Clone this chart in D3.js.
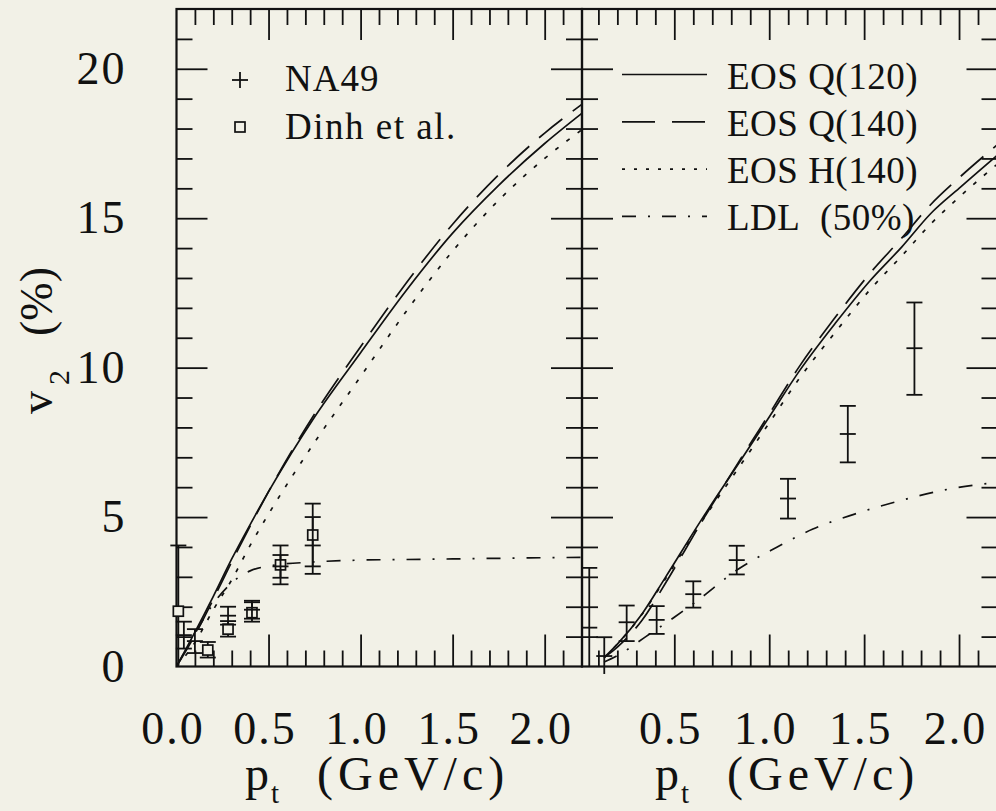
<!DOCTYPE html>
<html>
<head>
<meta charset="utf-8">
<script src="https://cdn.jsdelivr.net/npm/d3@7"></script>
<style>
  body { margin: 0; background: #f2f1e7; }
  svg { display: block; }
</style>
</head>
<body>
<div id="chart"></div>
<script>
// ---- left panel: pions ----
var ptPion = [0, 0.1, 0.2, 0.3, 0.4, 0.5, 0.75, 1.0, 1.25, 1.5, 1.75, 2.0, 2.2];
var eosq120Pion = [0, 1.15, 2.35, 3.6, 4.75, 5.85, 8.35, 10.5, 12.6, 14.5, 16.1, 17.5, 18.5];
var eosq140Pion = [0, 1.05, 2.25, 3.5, 4.7, 5.85, 8.45, 10.7, 12.85, 14.8, 16.45, 17.85, 18.8];
var eosh140Pion = [0, 0.8, 1.9, 2.9, 4.05, 5.1, 7.5, 9.7, 11.9, 13.9, 15.6, 17.0, 17.95];
var ldlPion = [0, 1.1, 2.1, 2.8, 3.2, 3.36, 3.5, 3.56, 3.58, 3.6, 3.62, 3.64, 3.65];

// NA49 pions (+)
var na49PionPt = [0.04, 0.1, 0.28, 0.41, 0.565, 0.74];
var na49PionV2 = [1.05, 0.85, 1.7, 1.9, 3.35, 4.05];
var na49PionLo = [0.6, 0.45, 1.4, 1.6, 2.97, 3.1];
var na49PionHi = [1.5, 1.25, 2.0, 2.2, 3.73, 5.0];

// Dinh et al. (squares)
var dinhPt = [0.01, 0.17, 0.28, 0.41, 0.565, 0.74];
var dinhV2 = [1.85, 0.55, 1.25, 1.8, 3.4, 4.4];
var dinhLo = [0, 0.3, 1.0, 1.5, 2.75, 3.35];
var dinhHi = [4.05, 0.82, 1.52, 2.15, 4.05, 5.45];

// ---- right panel: protons ----
var ptProton = [0.13, 0.2, 0.33, 0.45, 0.64, 0.85, 1.0, 1.16, 1.35, 1.53, 1.7, 1.85, 2.0, 2.2];
var eosq120Proton = [0.3, 0.75, 1.76, 2.95, 4.88, 6.9, 8.35, 9.9, 11.5, 12.9, 14.05, 15.15, 16.0, 17.1];
var eosq140Proton = [0.3, 0.65, 1.55, 2.75, 4.8, 6.95, 8.45, 10.05, 11.7, 13.15, 14.35, 15.45, 16.35, 17.45];
var eosh140Proton = [0.3, 0.75, 1.75, 2.9, 4.8, 6.75, 8.15, 9.65, 11.2, 12.6, 13.75, 14.8, 15.7, 16.8];
var ptLdlProton = [0.13, 0.21, 0.35, 0.5, 0.61, 0.84, 1.04, 1.23, 1.45, 1.69, 1.95, 2.2];
var ldlProton = [0.15, 0.4, 1.0, 1.65, 2.15, 3.27, 3.99, 4.6, 5.1, 5.55, 5.94, 6.16];

// NA49 protons (+)
var na49ProtonPt = [0.052, 0.131, 0.249, 0.407, 0.6, 0.829, 1.099, 1.414, 1.765];
var na49ProtonV2 = [1.3, 0.35, 1.48, 1.56, 2.42, 3.56, 5.62, 7.78, 10.65];
var na49ProtonLo = [0, -0.25, 0.85, 1.09, 1.97, 3.08, 4.95, 6.83, 9.09];
var na49ProtonHi = [3.3, 0.98, 2.04, 2.02, 2.85, 4.04, 6.28, 8.72, 12.18];

// ticks and legend
var xMajor = [0.5, 1.0, 1.5, 2.0];
var xMinor = [0.1, 0.2, 0.3, 0.4, 0.6, 0.7, 0.8, 0.9, 1.1, 1.2, 1.3, 1.4, 1.6, 1.7, 1.8, 1.9, 2.1];
var yMajor = [5, 10, 15, 20];
var yMinor = [1, 2, 3, 4, 6, 7, 8, 9, 11, 12, 13, 14, 16, 17, 18, 19, 21];
var yLabels = [0, 5, 10, 15, 20];
var xLabelsLeft = [0, 0.5, 1.0, 1.5, 2.0];
var xLabelsRight = [0.5, 1.0, 1.5, 2.0];
var legendCurves = ["EOS Q(120)", "EOS Q(140)", "EOS H(140)", "LDL\u00a0 (50%)"];
var legendData = ["NA49", "Dinh et al."];

var W = 996, H = 811;
var bg = "#f2f1e7";
var ink = "#111";
var font = "'Liberation Serif', 'Times New Roman', serif";

// line styles
var dashes = ["none", "30,13", "4,10", "14,12,2,12"];

var svg = d3.select("#chart").append("svg")
    .attr("width", W)
    .attr("height", H);

svg.append("rect").attr("width", W).attr("height", H).attr("fill", bg);

var y = d3.scaleLinear().domain([0, 22]).range([666.5, 9]);

var panels = [
    {
        id: "left",
        x: d3.scaleLinear().domain([0, 2.2]).range([176.5, 581.5]),
        left: 176.5, right: 582,
        curves: [
            { pt: ptPion, v2: eosq120Pion },
            { pt: ptPion, v2: eosq140Pion },
            { pt: ptPion, v2: eosh140Pion },
            { pt: ptPion, v2: ldlPion }
        ],
        labels: xLabelsLeft
    },
    {
        id: "right",
        x: d3.scaleLinear().domain([0, 2.2]).range([579.4, 997]),
        left: 582, right: 997.5,
        curves: [
            { pt: ptProton, v2: eosq120Proton },
            { pt: ptProton, v2: eosq140Proton },
            { pt: ptProton, v2: eosh140Proton },
            { pt: ptLdlProton, v2: ldlProton }
        ],
        labels: xLabelsRight
    }
];

function tickAxis(g, gen, values, size) {
    g.call(gen.tickValues(values).tickSize(size).tickFormat(""));
    g.select(".domain").remove();
    g.selectAll(".tick line").attr("stroke", ink).attr("stroke-width", 1.8);
}

// error bars with centre mark "+"
function drawBars(g, x, pts, vals, lo, hi, half) {
    var idx = d3.range(pts.length);
    var bars = g.append("g").attr("stroke", ink).attr("stroke-width", 1.8).attr("fill", "none");
    bars.selectAll(".v").data(idx).join("line")
        .attr("x1", i => x(pts[i])).attr("x2", i => x(pts[i]))
        .attr("y1", i => y(lo[i])).attr("y2", i => y(hi[i]));
    bars.selectAll(".hi").data(idx).join("line")
        .attr("x1", i => x(pts[i]) - half).attr("x2", i => x(pts[i]) + half)
        .attr("y1", i => y(hi[i])).attr("y2", i => y(hi[i]));
    bars.selectAll(".lo").data(idx.filter(i => lo[i] > 0)).join("line")
        .attr("x1", i => x(pts[i]) - half).attr("x2", i => x(pts[i]) + half)
        .attr("y1", i => y(lo[i])).attr("y2", i => y(lo[i]));
    return bars;
}

panels.forEach(function (p) {
    var x = p.x;
    var g = svg.append("g");

    svg.append("clipPath").attr("id", "clip-" + p.id)
        .append("rect")
        .attr("x", p.left).attr("y", y(22))
        .attr("width", p.right - p.left).attr("height", y(0) - y(22));

    // curves
    var line = d3.line()
        .x(d => x(d[0]))
        .y(d => y(d[1]))
        .curve(d3.curveMonotoneX);

    g.append("g").attr("clip-path", "url(#clip-" + p.id + ")")
        .selectAll("path")
        .data(p.curves)
        .join("path")
        .attr("d", c => line(c.pt.map((v, i) => [v, c.v2[i]])))
        .attr("fill", "none")
        .attr("stroke", ink)
        .attr("stroke-width", 1.7)
        .attr("stroke-dasharray", (c, i) => dashes[i]);

    // ticks (inward on all four sides)
    var inside = v => x(v) > p.left + 2 && x(v) < p.right - 2;
    var minX = xMinor.filter(inside), majX = xMajor.filter(inside);
    tickAxis(g.append("g").attr("transform", `translate(0,${y(22)})`), d3.axisBottom(x), minX, 16);
    tickAxis(g.append("g").attr("transform", `translate(0,${y(22)})`), d3.axisBottom(x), majX, 31);
    tickAxis(g.append("g").attr("transform", `translate(0,${y(0)})`), d3.axisTop(x), minX, 16);
    tickAxis(g.append("g").attr("transform", `translate(0,${y(0)})`), d3.axisTop(x), majX, 32);
    tickAxis(g.append("g").attr("transform", `translate(${p.left},0)`), d3.axisRight(y), yMinor, 16);
    tickAxis(g.append("g").attr("transform", `translate(${p.left},0)`), d3.axisRight(y), yMajor, 31);
    tickAxis(g.append("g").attr("transform", `translate(${p.right},0)`), d3.axisLeft(y), yMinor, 16);
    tickAxis(g.append("g").attr("transform", `translate(${p.right},0)`), d3.axisLeft(y), yMajor, 31);

    // frame
    g.append("rect")
        .attr("x", p.left).attr("y", y(22))
        .attr("width", p.right - p.left).attr("height", y(0) - y(22))
        .attr("fill", "none").attr("stroke", ink).attr("stroke-width", 2.2);

    // x tick labels
    var xl = g.append("g").attr("transform", "translate(-4,744)")
        .call(d3.axisBottom(x).tickValues(p.labels).tickSize(0).tickFormat(d3.format(".1f")));
    xl.select(".domain").remove();
    xl.selectAll("text")
        .attr("y", 0).attr("dy", 0)
        .attr("fill", ink)
        .style("font-family", font).style("font-size", "46px").style("letter-spacing", "2px");

    // x title
    var tx = p.id === "left" ? 245 : 655;
    var t = g.append("text").attr("x", tx).attr("y", 790)
        .attr("fill", ink).style("font-family", font).style("font-size", "48px");
    t.append("tspan").text("p");
    t.append("tspan").attr("dy", 13).attr("dx", 2).style("font-size", "29px").text("t");
    t.append("tspan").attr("dy", -13).attr("x", tx + 72)
        .style("letter-spacing", "5px").text("(GeV/c)");
});

// data points
var left = panels[0], right = panels[1];
var gPts = svg.append("g");
drawBars(gPts, left.x, dinhPt, dinhV2, dinhLo, dinhHi, 8);
gPts.append("g").selectAll("rect").data(d3.range(dinhPt.length)).join("rect")
    .attr("x", i => left.x(dinhPt[i]) - 5)
    .attr("y", i => y(dinhV2[i]) - 5)
    .attr("width", 10).attr("height", 10)
    .attr("fill", bg).attr("stroke", ink).attr("stroke-width", 1.7);

var pb = drawBars(gPts, left.x, na49PionPt, na49PionV2, na49PionLo, na49PionHi, 8);
pb.selectAll(".c").data(d3.range(na49PionPt.length)).join("line")
    .attr("x1", i => left.x(na49PionPt[i]) - 8).attr("x2", i => left.x(na49PionPt[i]) + 8)
    .attr("y1", i => y(na49PionV2[i])).attr("y2", i => y(na49PionV2[i]));

var rb = drawBars(gPts, right.x, na49ProtonPt, na49ProtonV2, na49ProtonLo, na49ProtonHi, 8);
rb.selectAll(".c").data(d3.range(na49ProtonPt.length)).join("line")
    .attr("x1", i => right.x(na49ProtonPt[i]) - 8).attr("x2", i => right.x(na49ProtonPt[i]) + 8)
    .attr("y1", i => y(na49ProtonV2[i])).attr("y2", i => y(na49ProtonV2[i]));

// y tick labels
var yl = svg.append("g").attr("transform", `translate(${left.left},0)`)
    .call(d3.axisLeft(y).tickValues(yLabels).tickSize(0).tickPadding(50).tickFormat(d3.format("d")));
yl.select(".domain").remove();
yl.selectAll("text")
    .attr("fill", ink)
    .style("font-family", font).style("font-size", "46px").style("letter-spacing", "2px");

// y title
var yt = svg.append("text")
    .attr("transform", "translate(52,414) rotate(-90)")
    .attr("fill", ink).style("font-family", font).style("font-size", "46px");
yt.append("tspan").text("v");
yt.append("tspan").attr("dy", 17).attr("dx", 6).style("font-size", "30px").text("2");
yt.append("tspan").attr("dy", -17).attr("x", 78).text("(%)");

// legend, left panel
var legL = svg.append("g").style("font-family", font).style("font-size", "37px").attr("fill", ink);
legL.append("line").attr("x1", 232).attr("x2", 248).attr("y1", 80).attr("y2", 80)
    .attr("stroke", ink).attr("stroke-width", 1.8);
legL.append("line").attr("x1", 240).attr("x2", 240).attr("y1", 72).attr("y2", 88)
    .attr("stroke", ink).attr("stroke-width", 1.8);
legL.append("rect").attr("x", 235).attr("y", 122).attr("width", 10).attr("height", 10)
    .attr("fill", "none").attr("stroke", ink).attr("stroke-width", 1.7);
legL.selectAll("text").data(legendData).join("text")
    .attr("x", 285).attr("y", (d, i) => 91 + i * 48)
    .style("letter-spacing", (d, i) => i === 1 ? "1.5px" : "1px")
    .text(d => d);

// legend, right panel
var legR = svg.append("g");
legR.selectAll("line").data(legendCurves).join("line")
    .attr("x1", 622).attr("x2", 707)
    .attr("y1", (d, i) => 74.5 + i * 47.3).attr("y2", (d, i) => 74.5 + i * 47.3)
    .attr("stroke", ink).attr("stroke-width", 1.7)
    .attr("stroke-dasharray", (d, i) => i === 1 ? "33,17" : (i === 2 ? "3,9" : dashes[i]));
legR.selectAll("text").data(legendCurves).join("text")
    .attr("x", 727).attr("y", (d, i) => 88.5 + i * 47.3)
    .attr("fill", ink)
    .style("font-family", font).style("font-size", "37px").style("letter-spacing", "0.5px")
    .text(d => d);
</script>
</body>
</html>
